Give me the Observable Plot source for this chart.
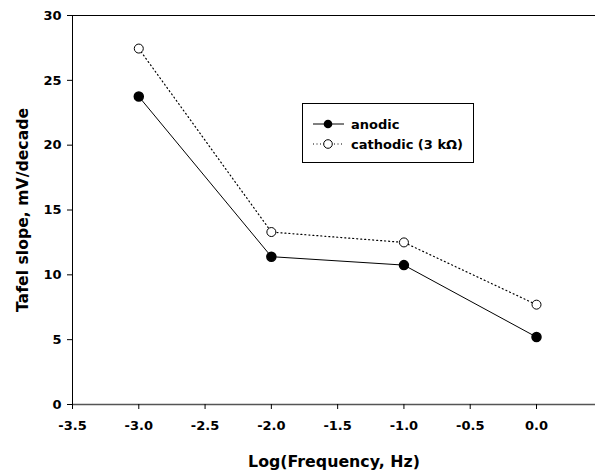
<!DOCTYPE html>
<html>
<head>
<meta charset="utf-8">
<script src="https://cdn.jsdelivr.net/npm/d3@7"></script>
<script src="https://cdn.jsdelivr.net/npm/@observablehq/plot@0.6"></script>
<style>
  body { margin: 0; background: #fff; font-family: "DejaVu Sans", sans-serif; }
  #wrap { position: relative; width: 596px; height: 473px; }
  #legend { position: absolute; left: 302px; top: 103px; width: 172px; height: 60px; border: 1px solid #000; background: #fff; box-sizing: border-box; font-weight: bold; font-size: 13px; }
  .row { position: absolute; left: 8px; height: 16px; display: flex; align-items: center; white-space: nowrap; }
  .row span { margin-left: 6px; }
</style>
</head>
<body>
<div id="wrap">
  <div id="chart"></div>
  <div id="legend">
    <div class="row" style="top:12px"><svg width="34" height="12"><line x1="2" x2="33" y1="6" y2="6" stroke="#000" stroke-width="1"/><circle cx="17" cy="6" r="4.3" fill="#000"/></svg><span>anodic</span></div>
    <div class="row" style="top:32px"><svg width="34" height="12"><line x1="2" x2="33" y1="6" y2="6" stroke="#000" stroke-width="1" stroke-dasharray="1,2.5"/><circle cx="17" cy="6" r="4.3" fill="#fff" stroke="#000"/></svg><span>cathodic (3 kΩ)</span></div>
  </div>
</div>
<script>
const logFreq = [-3, -2, -1, 0];
const anodic = [23.75, 11.4, 10.75, 5.2];
const cathodic = [27.45, 13.3, 12.5, 7.7];
const xTicks = [-3.5, -3.0, -2.5, -2.0, -1.5, -1.0, -0.5, 0.0];
const yTicks = [0, 5, 10, 15, 20, 25, 30];

const anodicData = logFreq.map((x, i) => ({x, y: anodic[i]}));
const cathodicData = logFreq.map((x, i) => ({x, y: cathodic[i]}));

const chart = Plot.plot({
  width: 596,
  height: 473,
  marginLeft: 72,
  marginRight: 1,
  marginTop: 15,
  marginBottom: 69,
  style: { fontFamily: "'DejaVu Sans', sans-serif", fontSize: "13px", fontWeight: "bold", color: "#000", background: "#fff" },
  x: { domain: [-3.5, 0.445], label: null },
  y: { domain: [0, 30], label: null },
  marks: [
    Plot.ruleY([30], { stroke: "#000", strokeWidth: 1 }),
    Plot.ruleY([0], { stroke: "#555", strokeWidth: 1.5 }),
    Plot.ruleX([-3.5], { stroke: "#000", strokeWidth: 1 }),
    Plot.axisX({ ticks: xTicks, tickFormat: d => d.toFixed(1), tickSize: 5, tickPadding: 11, fontSize: 13, fontWeight: "bold", label: null }),
    Plot.axisY({ ticks: yTicks, tickFormat: d => String(d), tickSize: 5, tickPadding: 6, fontSize: 13, fontWeight: "bold", label: null }),
    Plot.text(["Log(Frequency, Hz)"], { frameAnchor: "bottom", lineAnchor: "middle", dy: 57, fontSize: 15.8, fontWeight: "bold", fill: "#000" }),
    Plot.text(["Tafel slope, mV/decade"], { frameAnchor: "left", textAnchor: "middle", lineAnchor: "middle", dx: -50, rotate: -90, fontSize: 15.7, fontWeight: "bold", fill: "#000" }),
    Plot.line(cathodicData, { x: "x", y: "y", stroke: "#000", strokeWidth: 1.2, strokeDasharray: "1,3" }),
    Plot.line(anodicData, { x: "x", y: "y", stroke: "#000", strokeWidth: 1 }),
    Plot.dot(cathodicData, { x: "x", y: "y", r: 4.5, fill: "#fff", stroke: "#000", strokeWidth: 1 }),
    Plot.dot(anodicData, { x: "x", y: "y", r: 4.5, fill: "#000", stroke: "#000" })
  ]
});
document.getElementById("chart").appendChild(chart);
</script>
</body>
</html>
